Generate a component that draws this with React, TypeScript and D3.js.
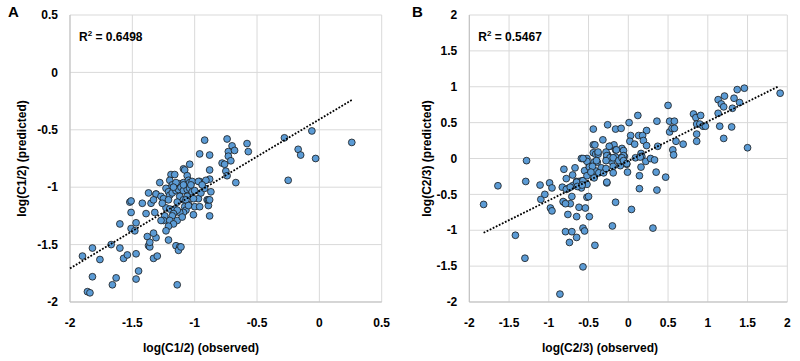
import React from 'react';
import * as d3 from 'd3';

// [observed, predicted] pairs
const pointsA: [number, number][] = [
  [-0.92, -0.59], [-0.74, -0.58], [-0.70, -0.64], [-0.58, -0.62], [-0.96, -0.71], [-0.88, -0.72],
  [-0.73, -0.69], [-0.68, -0.68], [-0.57, -0.69], [-0.73, -0.73], [-0.28, -0.57], [-0.06, -0.51],
  [-0.17, -0.67], [-0.15, -0.72], [0.26, -0.61], [-0.03, -0.75], [-0.25, -0.94], [-0.78, -0.79],
  [-0.76, -0.80], [-0.71, -0.77], [-0.88, -0.85], [-1.04, -0.80], [-0.75, -0.86], [-0.74, -0.90],
  [-0.67, -0.96], [-1.28, -0.96], [-1.19, -0.89], [-1.16, -0.89], [-1.09, -0.84], [-1.08, -0.85],
  [-1.06, -0.90], [-0.96, -0.95], [-0.88, -0.93], [-0.91, -0.94], [-1.37, -1.05], [-1.31, -1.06],
  [-1.52, -1.13], [-1.51, -1.12], [-1.42, -1.14], [-1.35, -1.14], [-1.51, -1.22], [-1.39, -1.23],
  [-1.32, -1.22], [-1.47, -1.31], [-1.60, -1.32], [-1.51, -1.36], [-1.48, -1.38], [-0.88, -1.25],
  [-1.01, -1.24], [-1.00, -1.17], [-0.96, -1.17], [-0.89, -1.16], [-0.90, -1.11], [-0.87, -1.04],
  [-1.67, -1.50], [-1.82, -1.53], [-1.60, -1.53], [-1.90, -1.60], [-1.76, -1.63], [-1.57, -1.62],
  [-1.54, -1.59], [-1.47, -1.58], [-1.33, -1.62], [-1.30, -1.60], [-1.37, -1.51], [-1.36, -1.52],
  [-1.38, -1.43], [-1.31, -1.44], [-1.33, -1.40], [-1.21, -1.46], [-1.15, -1.51], [-1.12, -1.52],
  [-1.13, -1.55], [-1.11, -1.52], [-1.45, -1.73], [-1.82, -1.78], [-1.63, -1.79], [-1.47, -1.80],
  [-1.66, -1.85], [-1.14, -1.85], [-1.86, -1.91], [-1.84, -1.92],
  [-1.20, -0.94], [-1.18, -0.98], [-1.20, -1.01], [-1.12, -0.97], [-1.09, -0.96], [-1.05, -0.94],
  [-1.04, -0.96], [-1.02, -0.95], [-0.97, -0.95], [-1.31, -1.06], [-1.33, -1.11], [-1.27, -1.08],
  [-1.25, -1.10], [-1.23, -1.01], [-1.21, -1.04], [-1.20, -1.07], [-1.21, -1.11], [-1.18, -1.05],
  [-1.15, -1.03], [-1.13, -1.02], [-1.11, -1.00], [-1.09, -1.03], [-1.06, -1.02], [-1.04, -1.01],
  [-1.02, -1.04], [-1.00, -1.03], [-1.12, -1.08], [-1.14, -1.13], [-1.09, -1.11], [-1.06, -1.08],
  [-1.05, -1.15], [-1.08, -1.17], [-1.07, -1.20], [-1.09, -1.22], [-1.12, -1.22], [-0.97, -1.10],
  [-0.95, -1.05], [-0.92, -1.01], [-0.89, -1.11], [-1.23, -1.18], [-1.20, -1.19], [-1.16, -1.19],
  [-1.14, -1.20], [-1.17, -1.23], [-1.24, -1.25], [-1.18, -1.25], [-1.14, -1.29], [-1.25, -1.29],
  [-1.20, -1.29], [-1.17, -1.32], [-1.21, -1.34], [-1.23, -1.38], [-1.27, -1.29], [-1.36, -1.48],
  [-1.07, -1.11], [-1.05, -1.16], [-0.88, -1.11], [-1.09, -0.98], [-1.15, -0.96], [-1.03, -0.98],
  [-1.17, -1.00], [-0.94, -0.98], [-1.26, -1.14], [-1.10, -1.26], [-1.01, -1.10],
];

const pointsB: [number, number][] = [
  [0.50, 0.74], [0.12, 0.60], [0.82, 0.62], [0.85, 0.57], [0.91, 0.60], [0.86, 0.48], [0.90, 0.48],
  [0.94, 0.45], [0.97, 0.45], [1.13, 0.82], [1.17, 0.76], [1.21, 0.87], [1.20, 0.72], [1.13, 0.63],
  [1.37, 0.96], [1.46, 0.98], [1.33, 0.84], [1.40, 0.78], [1.31, 0.70], [1.91, 0.91], [1.15, 0.45],
  [1.30, 0.44], [1.20, 0.28], [1.50, 0.15], [0.52, 0.52], [0.58, 0.52], [0.52, 0.37], [0.55, 0.42],
  [0.58, 0.42], [0.86, 0.34], [0.86, 0.24], [0.60, 0.24], [0.69, 0.20], [0.36, 0.52], [0.56, 0.12],
  [0.57, 0.05], [0.37, 0.17], [0.23, 0.39], [0.13, 0.32], [0.18, 0.32], [0.19, 0.25], [0.23, 0.18],
  [0.16, 0.07], [0.17, 0.03], [0.01, 0.50], [0.03, 0.32], [0.02, 0.24], [0.08, 0.20], [-0.16, 0.41],
  [-0.09, 0.42], [-0.26, 0.47], [-0.44, 0.41], [-0.32, 0.26], [-0.44, 0.19], [-0.42, 0.19],
  [-0.23, 0.17], [-0.18, 0.19], [-0.08, 0.14], [-0.06, 0.11], [-0.16, 0.12], [-0.44, 0.08],
  [-0.41, 0.06], [-0.38, 0.06], [-0.26, 0.05], [-0.05, 0.03], [-1.28, -0.03], [-0.59, 0.00],
  [-0.54, -0.01],
  [-1.64, -0.38], [-1.82, -0.64], [-1.29, -0.32], [-1.11, -0.37], [-1.10, -0.57], [-1.05, -0.50],
  [-0.99, -0.34], [-0.96, -0.41], [-0.98, -0.69], [-0.96, -0.73], [-1.42, -1.07], [-1.30, -1.39],
  [-0.86, -1.89], [-0.81, -0.15], [-0.78, -0.28], [-0.76, -0.42], [-0.83, -0.40], [-0.81, -0.61],
  [-0.73, -0.63], [-0.76, -0.78], [-0.65, -0.81], [-0.79, -1.02], [-0.71, -1.02], [-0.74, -1.17],
  [-0.65, -1.10], [-0.70, -0.23], [-0.67, -0.13], [-0.70, -0.38], [-0.65, -0.32], [-0.62, -0.32],
  [-0.58, -0.31], [-0.59, -0.41], [-0.62, -0.68], [-0.54, -0.69], [-0.49, -0.81], [-0.57, -0.97],
  [-0.55, -1.01], [-0.57, -1.51], [-0.42, -1.21], [-0.52, -0.54], [-0.52, -0.36], [-0.52, 0.00],
  [-0.51, -0.17], [-0.49, -0.10], [-0.43, -0.05], [-0.43, -0.26], [-0.42, -0.17], [-0.39, -0.05],
  [-0.34, -0.13], [-0.37, -0.20], [-0.31, -0.20], [-0.28, -0.14], [-0.27, -0.34], [-0.25, 0.00],
  [-0.21, -0.04], [-0.19, -0.11], [-0.19, -0.20], [-0.16, -0.61], [-0.20, -0.94], [-0.16, 0.02],
  [-0.11, -0.05], [-0.08, 0.02], [-0.06, 0.04], [-0.05, -0.05], [-0.10, -0.10], [-0.02, -0.08],
  [-0.01, -0.19], [0.09, 0.01], [0.15, 0.02], [0.16, -0.12], [0.14, -0.24], [0.14, -0.42],
  [0.22, -0.04], [0.28, 0.00], [0.33, -0.02], [0.04, -0.71], [0.35, -0.19], [0.47, -0.26],
  [0.36, -0.44], [0.31, -0.97], [-0.27, 0.01], [-0.28, 0.09],
  [-0.78, -0.43], [-0.73, -0.40], [-0.82, -0.60], [-0.79, -0.63], [-0.50, -0.53], [-0.71, -0.53],
  [-0.65, -0.33], [-0.57, -0.31], [-0.64, -0.39], [-0.58, -0.37], [-0.55, -0.17], [-0.52, -0.04],
  [-0.57, 0.00], [-0.49, -0.12], [-0.52, -0.24], [-0.45, -0.11], [-0.43, -0.27], [-0.47, -0.19],
  [-0.38, 0.09], [-0.40, -0.03], [-0.24, 0.17], [-0.15, 0.12], [-0.27, 0.04], [-0.23, 0.01],
  [-0.28, -0.03], [-0.19, 0.01], [-0.12, -0.03], [-0.08, 0.01], [-0.06, -0.03], [-0.02, -0.07],
  [-0.27, -0.33],
];

// trendline coefficients and extent [slope, intercept, xStart, xEnd]
const trendA = [0.649, -0.409, -2, 0.27];
const trendB = [0.55, -0.034, -1.82, 1.89];

const xTicksA = [-2, -1.5, -1, -0.5, 0, 0.5];
const yTicksA = [-2, -1.5, -1, -0.5, 0, 0.5];
const xTicksB = [-2, -1.5, -1, -0.5, 0, 0.5, 1, 1.5, 2];
const yTicksB = [-2, -1.5, -1, -0.5, 0, 0.5, 1, 1.5, 2];

const FONT = "'Liberation Sans Narrow', 'Liberation Sans', Arial, sans-serif";

type PanelProps = {
  letter: string;
  letterX: number;
  left: number;
  right: number;
  xDomain: [number, number];
  yDomain: [number, number];
  xTicks: number[];
  yTicks: number[];
  points: [number, number][];
  trend: number[];
  r2: string;
  xTitle: string;
  yTitle: string;
  xTitleX: number;
  yTitleX: number;
};

const Panel: React.FC<PanelProps> = (p) => {
  const top = 15;
  const bottom = 302;
  const x = d3.scaleLinear().domain(p.xDomain).range([p.left, p.right]);
  const y = d3.scaleLinear().domain(p.yDomain).range([bottom, top]);
  const [m, b, x0, x1] = p.trend;
  const line = d3.line<number>().x(d => x(d)).y(d => y(m * d + b));

  return (
    <g fontFamily={FONT} fontWeight="bold" fill="#000">
      <text x={p.letterX} y={17} fontSize={15}>{p.letter}</text>
      {p.xTicks.map(t => (
        <line key={'gx' + t} x1={x(t)} x2={x(t)} y1={top} y2={bottom} stroke="#d9d9d9" />
      ))}
      {p.yTicks.map(t => (
        <line key={'gy' + t} x1={p.left} x2={p.right} y1={y(t)} y2={y(t)} stroke="#d9d9d9" />
      ))}
      <line x1={p.left} x2={p.left} y1={top} y2={bottom} stroke="#bfbfbf" />
      <line x1={p.left} x2={p.right} y1={bottom} y2={bottom} stroke="#bfbfbf" />
      {p.yTicks.map(t => (
        <text key={'ty' + t} x={p.left - 12} y={y(t)} dy="0.35em" textAnchor="end" fontSize={12}>{t}</text>
      ))}
      {p.xTicks.map(t => (
        <text key={'tx' + t} x={x(t)} y={bottom + 21} dy="0.35em" textAnchor="middle" fontSize={12}>{t}</text>
      ))}
      {p.points.map((d, i) => (
        <circle key={i} cx={x(d[0])} cy={y(d[1])} r={3.4} fill="#5b9bd5" stroke="#1a1a1a" strokeWidth={0.8} />
      ))}
      <path d={line([x0, x1]) || ''} fill="none" stroke="#000" strokeWidth={1.8} strokeDasharray="1.8 1.6" />
      <text x={p.left + 9} y={y(p.yDomain[1]) + 26} fontSize={12}>
        R<tspan fontSize={8} dy={-5}>2</tspan><tspan dy={5}> = {p.r2}</tspan>
      </text>
      <text x={p.xTitleX} y={bottom + 46} dy="0.35em" textAnchor="middle" fontSize={12}>{p.xTitle}</text>
      <text transform={`translate(${p.yTitleX},${(top + bottom) / 2}) rotate(-90)`} dy="0.35em"
        textAnchor="middle" fontSize={12}>{p.yTitle}</text>
    </g>
  );
};

export default function App() {
  return (
    <svg width={800} height={361} style={{ position: 'absolute', left: 0, top: 0, background: '#fff' }}>
      <Panel letter="A" letterX={8} left={70} right={381.7} xDomain={[-2, 0.5]} yDomain={[-2, 0.5]}
        xTicks={xTicksA} yTicks={yTicksA} points={pointsA} trend={trendA} r2="0.6498"
        xTitle="log(C1/2) (observed)" yTitle="log(C1/2) (predicted)" xTitleX={201} yTitleX={22} />
      <Panel letter="B" letterX={412} left={469.3} right={787.3} xDomain={[-2, 2]} yDomain={[-2, 2]}
        xTicks={xTicksB} yTicks={yTicksB} points={pointsB} trend={trendB} r2="0.5467"
        xTitle="log(C2/3) (observed)" yTitle="log(C2/3) (predicted)" xTitleX={600} yTitleX={427} />
    </svg>
  );
}
